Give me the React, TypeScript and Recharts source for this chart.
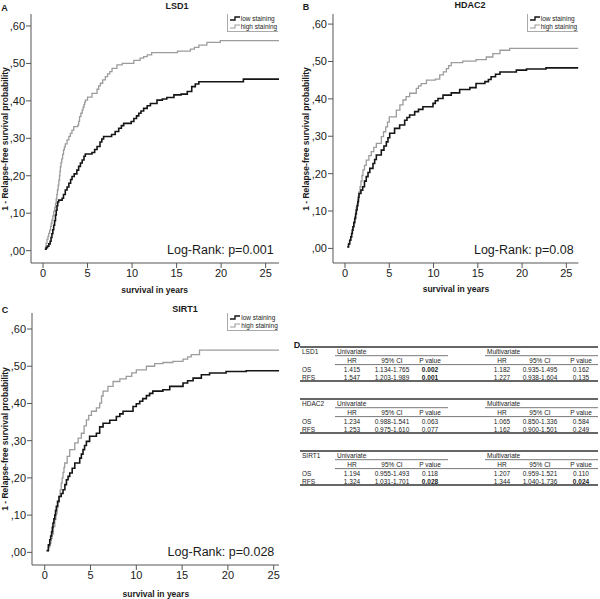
import React from 'react';
import { LineChart, Line, XAxis, YAxis } from 'recharts';

const FONT = '"Liberation Sans", Arial, sans-serif';

const yearTicks = [0, 5, 10, 15, 20, 25];
const probTicks = [0, 0.1, 0.2, 0.3, 0.4, 0.5, 0.6];
const seriesNames = ['low staining', 'high staining'];

// [years, 1 - relapse-free survival]
const lsd1Low: [number, number][] = [
  [0.2, 0.004], [0.35, 0.008], [0.5, 0.012], [0.65, 0.018], [0.8, 0.025], [0.9, 0.035], [1.0, 0.045],
  [1.1, 0.056], [1.2, 0.068], [1.3, 0.08], [1.4, 0.095], [1.48, 0.108], [1.57, 0.12], [1.65, 0.13],
  [1.76, 0.135], [2.15, 0.14], [2.3, 0.15], [2.5, 0.162], [2.7, 0.17], [2.9, 0.18], [3.1, 0.19],
  [3.26, 0.198], [3.5, 0.205], [3.8, 0.215], [4.0, 0.225], [4.2, 0.234], [4.4, 0.242], [4.6, 0.252],
  [4.75, 0.258], [5.5, 0.262], [5.8, 0.27], [6.07, 0.278], [6.4, 0.29], [6.6, 0.298], [6.8, 0.305],
  [7.7, 0.31], [8.1, 0.318], [8.5, 0.327], [8.8, 0.334], [9.06, 0.34], [9.9, 0.345], [10.2, 0.353],
  [10.5, 0.36], [10.75, 0.367], [11.0, 0.373], [11.3, 0.38], [11.7, 0.387], [12.06, 0.393],
  [12.8, 0.402], [13.4, 0.405], [13.9, 0.409], [14.7, 0.416], [15.5, 0.418], [16.2, 0.425],
  [16.7, 0.438], [17.1, 0.445], [17.5, 0.451], [22.5, 0.458], [26.5, 0.458],
];
const lsd1High: [number, number][] = [
  [0.2, 0.01], [0.35, 0.02], [0.45, 0.03], [0.55, 0.038], [0.64, 0.046], [0.75, 0.055], [0.85, 0.065],
  [0.92, 0.073], [1.0, 0.082], [1.1, 0.093], [1.2, 0.105], [1.3, 0.115], [1.4, 0.126], [1.48, 0.138],
  [1.55, 0.15], [1.62, 0.162], [1.7, 0.175], [1.78, 0.188], [1.85, 0.2], [1.9, 0.212], [1.95, 0.224],
  [2.02, 0.235], [2.1, 0.245], [2.2, 0.257], [2.3, 0.269], [2.4, 0.277], [2.5, 0.285], [2.7, 0.296],
  [2.9, 0.305], [3.07, 0.313], [3.25, 0.322], [3.45, 0.331], [3.9, 0.335], [4.0, 0.345], [4.1, 0.358],
  [4.25, 0.367], [4.4, 0.376], [4.5, 0.383], [4.6, 0.39], [4.68, 0.396], [4.76, 0.402], [5.0, 0.41],
  [5.5, 0.42], [6.07, 0.431], [6.25, 0.44], [6.44, 0.447], [6.7, 0.456], [7.0, 0.465], [7.25, 0.472],
  [7.5, 0.478], [7.75, 0.487], [8.3, 0.496], [8.9, 0.5], [10.2, 0.508], [10.9, 0.514], [11.3, 0.518],
  [11.7, 0.523], [12.2, 0.529], [15.1, 0.533], [16.55, 0.538], [17.0, 0.543], [17.5, 0.549],
  [18.4, 0.556], [19.9, 0.561], [26.5, 0.561],
];
const hdac2Low: [number, number][] = [
  [0.26, 0.004], [0.4, 0.012], [0.53, 0.022], [0.65, 0.031], [0.75, 0.04], [0.83, 0.049], [0.9, 0.058],
  [1.0, 0.069], [1.1, 0.08], [1.2, 0.092], [1.28, 0.103], [1.37, 0.114], [1.45, 0.125], [1.52, 0.136],
  [1.58, 0.147], [1.8, 0.156], [2.0, 0.165], [2.2, 0.18], [2.4, 0.192], [2.6, 0.203], [2.8, 0.214],
  [3.16, 0.227], [3.35, 0.238], [3.54, 0.25], [4.1, 0.263], [4.4, 0.274], [4.67, 0.285], [4.85, 0.296],
  [5.05, 0.308], [5.6, 0.321], [6.17, 0.33], [6.74, 0.343], [7.0, 0.35], [7.3, 0.357], [7.87, 0.366],
  [8.3, 0.372], [8.8, 0.379], [9.94, 0.388], [10.2, 0.395], [10.5, 0.401], [11.07, 0.41], [12.0, 0.416],
  [12.95, 0.425], [14.1, 0.43], [14.8, 0.441], [15.8, 0.446], [16.2, 0.452], [16.5, 0.459],
  [17.0, 0.466], [17.5, 0.472], [19.35, 0.477], [20.5, 0.48], [22.7, 0.483], [26.36, 0.483],
];
const hdac2High: [number, number][] = [
  [0.26, 0.004], [0.4, 0.012], [0.53, 0.022], [0.65, 0.031], [0.75, 0.04], [0.83, 0.049], [0.9, 0.058],
  [1.0, 0.071], [1.1, 0.085], [1.2, 0.098], [1.28, 0.111], [1.37, 0.12], [1.45, 0.13], [1.52, 0.14],
  [1.58, 0.151], [1.7, 0.165], [1.8, 0.18], [1.92, 0.195], [2.03, 0.21], [2.2, 0.222], [2.4, 0.236],
  [2.7, 0.248], [2.97, 0.259], [3.25, 0.27], [3.54, 0.281], [4.1, 0.299], [4.35, 0.312], [4.6, 0.325],
  [4.8, 0.338], [5.0, 0.352], [5.8, 0.37], [6.2, 0.384], [6.55, 0.397], [6.9, 0.406], [7.3, 0.415],
  [8.05, 0.428], [8.3, 0.435], [8.6, 0.441], [9.2, 0.45], [10.2, 0.453], [10.7, 0.464], [11.1, 0.472],
  [11.45, 0.481], [11.7, 0.489], [12.0, 0.497], [13.3, 0.501], [14.8, 0.505], [15.96, 0.512],
  [16.7, 0.521], [17.5, 0.53], [18.6, 0.535], [26.36, 0.535],
];
const sirt1Low: [number, number][] = [
  [0.2, 0.005], [0.4, 0.02], [0.55, 0.034], [0.65, 0.044], [0.75, 0.055], [0.83, 0.067], [0.9, 0.079],
  [1.0, 0.09], [1.1, 0.1], [1.18, 0.112], [1.27, 0.124], [1.4, 0.137], [1.56, 0.15], [1.8, 0.158],
  [2.0, 0.168], [2.2, 0.182], [2.37, 0.195], [2.55, 0.204], [2.73, 0.213], [3.0, 0.226], [3.28, 0.24],
  [3.82, 0.253], [4.0, 0.264], [4.18, 0.276], [4.35, 0.287], [4.55, 0.298], [4.9, 0.312], [5.64, 0.32],
  [6.0, 0.337], [6.37, 0.347], [7.1, 0.355], [7.82, 0.365], [8.2, 0.372], [8.55, 0.379], [9.64, 0.392],
  [10.0, 0.399], [10.37, 0.406], [10.7, 0.413], [11.1, 0.421], [11.45, 0.427], [11.8, 0.433],
  [12.9, 0.437], [13.65, 0.446], [15.1, 0.455], [15.6, 0.461], [16.2, 0.468], [17.1, 0.477],
  [18.0, 0.482], [19.8, 0.486], [22.0, 0.488], [25.58, 0.488],
];
const sirt1High: [number, number][] = [
  [0.2, 0.003], [0.4, 0.014], [0.55, 0.025], [0.68, 0.037], [0.8, 0.05], [0.95, 0.069], [1.1, 0.088],
  [1.22, 0.104], [1.35, 0.12], [1.45, 0.135], [1.56, 0.15], [1.68, 0.168], [1.8, 0.186], [1.9, 0.2],
  [2.0, 0.215], [2.1, 0.228], [2.18, 0.24], [2.45, 0.258], [2.73, 0.276], [3.28, 0.294], [3.65, 0.307],
  [4.0, 0.32], [4.3, 0.34], [4.55, 0.356], [4.8, 0.368], [5.1, 0.379], [5.64, 0.388], [6.0, 0.401],
  [6.2, 0.42], [6.37, 0.433], [6.9, 0.446], [7.46, 0.459], [8.2, 0.466], [8.9, 0.473], [9.5, 0.482],
  [10.0, 0.49], [11.1, 0.5], [12.0, 0.507], [12.9, 0.51], [14.0, 0.513], [15.1, 0.519], [15.6, 0.525],
  [16.0, 0.531], [16.9, 0.543], [25.58, 0.543],
];

// Cox regression table (panel D)
const markers = ['LSD1', 'HDAC2', 'SIRT1'];
const endpoints = ['OS', 'RFS'];
const colHeads = ['HR', '95% CI', 'P value'];
const uniHR = [['1.415', '1.547'], ['1.234', '1.253'], ['1.194', '1.324']];
const uniCI = [['1.134-1.765', '1.203-1.989'], ['0.988-1.541', '0.975-1.610'], ['0.955-1.493', '1.031-1.701']];
const uniP = [['0.002', '0.001'], ['0.063', '0.077'], ['0.118', '0.028']];
const multiHR = [['1.182', '1.227'], ['1.065', '1.162'], ['1.207', '1.344']];
const multiCI = [['0.935-1.495', '0.938-1.604'], ['0.850-1.336', '0.900-1.501'], ['0.959-1.521', '1.040-1.736']];
const multiP = [['0.162', '0.135'], ['0.584', '0.249'], ['0.110', '0.024']];

type Panel = {
  letter: string;
  title: string;
  pText: string;
  low: [number, number][];
  high: [number, number][];
  box: [number, number, number, number]; // left, top, right, bottom (page px)
  xDomain: [number, number];
  yDomain: [number, number];
  titleX: number;
  titleY: number;
  letterX: number;
  letterY: number;
  yLabelX: number;
  xLabelY: number;
};

const panels: Panel[] = [
  {
    letter: 'A', title: 'LSD1', pText: 'Log-Rank: p=0.001', low: lsd1Low, high: lsd1High,
    box: [30.7, 14, 278.7, 263], xDomain: [-1.35, 26.5], yDomain: [-0.033, 0.632],
    titleX: 177, titleY: 6, letterX: 4.5, letterY: 8, yLabelX: 5, xLabelY: 290,
  },
  {
    letter: 'B', title: 'HDAC2', pText: 'Log-Rank: p=0.08', low: hdac2Low, high: hdac2High,
    box: [333.3, 14, 578.7, 263], xDomain: [-1.355, 26.36], yDomain: [-0.039, 0.627],
    titleX: 470, titleY: 5, letterX: 306, letterY: 7, yLabelX: 305.5, xLabelY: 289,
  },
  {
    letter: 'C', title: 'SIRT1', pText: 'Log-Rank: p=0.028', low: sirt1Low, high: sirt1High,
    box: [32.3, 313.3, 279.3, 565.3], xDomain: [-1.39, 25.58], yDomain: [-0.034, 0.643],
    titleX: 185, titleY: 309, letterX: 5, letterY: 309.5, yLabelX: 5, xLabelY: 594,
  },
];

const AXIS = '#555';
const LOW = '#151515';
const HIGH = '#9c9c9c';

function Txt({ x, y, size, bold, rotate, anchor = 'middle', children }: any) {
  const tx = anchor === 'middle' ? '-50%' : anchor === 'end' ? '-100%' : '0';
  return (
    <div
      style={{
        position: 'absolute', left: x, top: y, fontFamily: FONT, fontSize: size, lineHeight: 1,
        fontWeight: bold ? 700 : 400, color: '#1a1a1a', whiteSpace: 'nowrap',
        transform: `translate(${tx}, -50%)${rotate ? ` rotate(${rotate}deg)` : ''}`,
        transformOrigin: anchor === 'middle' ? '50% 50%' : undefined,
      }}
    >
      {children}
    </div>
  );
}

function StepIcon({ color }: { color: string }) {
  return (
    <svg width={10} height={5} style={{ display: 'block', marginRight: 1 }}>
      <path d="M0,4 H5 V1 H10" fill="none" stroke={color} strokeWidth={color === LOW ? 1.4 : 1.1} />
    </svg>
  );
}

function KMPanel({ p }: { p: Panel }) {
  const yw = 31;
  const xh = 30;
  const pad = 2;
  const [l, t, r, b] = p.box;
  const w = r - l;
  const h = b - t;
  const lowData = p.low.map(([x, v]) => ({ t: x, v }));
  const highData = p.high.map(([x, v]) => ({ t: x, v }));
  const tick = { fontSize: 11, fill: '#1a1a1a', fontFamily: FONT };
  return (
    <>
      <div style={{ position: 'absolute', left: l - yw, top: t - pad }}>
        <LineChart width={w + yw + pad} height={h + pad + xh} margin={{ top: pad, right: pad, bottom: 0, left: 0 }}>
          <XAxis
            xAxisId="b" dataKey="t" type="number" domain={p.xDomain} ticks={yearTicks} allowDataOverflow
            height={xh} tick={tick} tickSize={5} tickMargin={1} stroke={AXIS} interval={0}
          />
          <XAxis
            xAxisId="top" orientation="top" type="number" domain={p.xDomain} allowDataOverflow
            height={0} tick={false} tickLine={false} stroke={AXIS}
          />
          <YAxis
            yAxisId="l" type="number" domain={p.yDomain} ticks={probTicks} allowDataOverflow width={yw}
            tick={tick} tickSize={5} tickMargin={1} stroke={AXIS} interval={0}
            tickFormatter={(v: number) => ',' + String(Math.round(v * 100)).padStart(2, '0')}
          />
          <YAxis
            yAxisId="r" orientation="right" type="number" domain={p.yDomain} allowDataOverflow
            width={0} tick={false} tickLine={false} stroke={AXIS}
          />
          <Line
            xAxisId="b" yAxisId="l" data={highData} dataKey="v" name={seriesNames[1]} type="stepAfter"
            stroke={HIGH} strokeWidth={1.3} dot={false} isAnimationActive={false}
          />
          <Line
            xAxisId="b" yAxisId="l" data={lowData} dataKey="v" name={seriesNames[0]} type="stepAfter"
            stroke={LOW} strokeWidth={1.6} dot={false} isAnimationActive={false}
          />
        </LineChart>
      </div>
      <div
        style={{
          position: 'absolute', left: r - 52, top: t, width: 51, height: 18,
          borderLeft: '1px solid #aaa', borderBottom: '1px solid #aaa', boxSizing: 'border-box',
          display: 'flex', flexDirection: 'column', justifyContent: 'center', paddingLeft: 2,
          fontFamily: FONT, fontSize: 6.5, color: '#222', lineHeight: '8px',
        }}
      >
        {[LOW, HIGH].map((c, i) => (
          <div key={i} style={{ display: 'flex', alignItems: 'center' }}>
            <StepIcon color={c} />
            <span>{seriesNames[i]}</span>
          </div>
        ))}
      </div>
      <Txt x={p.letterX} y={p.letterY} size={9} bold>{p.letter}</Txt>
      <Txt x={p.titleX} y={p.titleY} size={9} bold>{p.title}</Txt>
      <Txt x={(l + r) / 2} y={p.xLabelY} size={8.5} bold>survival in years</Txt>
      <Txt x={p.yLabelX} y={(t + b) / 2} size={8.5} bold rotate={-90}>1 - Relapse-free survival probability</Txt>
      <Txt x={r - 5} y={b - 13} size={12.5} anchor="end">{p.pText}</Txt>
    </>
  );
}

function CoxTable() {
  const ox = 295;
  const oy = 330;
  const blockTops = [347, 399, 451];
  const uniX = [352, 392, 430];
  const multiX = [502, 540, 581];
  const fs = 6.5;
  const txt = (x: number, y: number, s: string, anchor = 'middle', bold = false, key?: string) => (
    <text
      key={key} x={x - ox} y={y - oy} textAnchor={anchor} dominantBaseline="central"
      fontSize={fs} fontFamily={FONT} fontWeight={bold ? 700 : 400} fill="#222"
    >
      {s}
    </text>
  );
  return (
    <svg width={305} height={170} style={{ position: 'absolute', left: ox, top: oy }}>
      {markers.map((m, k) => {
        const y0 = blockTops[k];
        const cols = [
          { xs: uniX, hr: uniHR[k], ci: uniCI[k], p: uniP[k] },
          { xs: multiX, hr: multiHR[k], ci: multiCI[k], p: multiP[k] },
        ];
        return (
          <g key={m}>
            <line x1={300 - ox} x2={598 - ox} y1={y0 - oy} y2={y0 - oy} stroke="#333" strokeWidth={1.6} />
            <line x1={300 - ox} x2={598 - ox} y1={y0 + 34 - oy} y2={y0 + 34 - oy} stroke="#333" strokeWidth={1.6} />
            <line x1={335 - ox} x2={448 - ox} y1={y0 + 8.7 - oy} y2={y0 + 8.7 - oy} stroke="#555" strokeWidth={0.8} />
            <line x1={485 - ox} x2={598 - ox} y1={y0 + 8.7 - oy} y2={y0 + 8.7 - oy} stroke="#555" strokeWidth={0.8} />
            <line x1={335 - ox} x2={598 - ox} y1={y0 + 17.6 - oy} y2={y0 + 17.6 - oy} stroke="#555" strokeWidth={0.8} />
            {txt(302, y0 + 4.8, m, 'start')}
            {txt(337, y0 + 4.8, 'Univariate', 'start')}
            {txt(487, y0 + 4.8, 'Multivariate', 'start')}
            {cols.map((c, ci) =>
              colHeads.map((hd, j) => txt(c.xs[j], y0 + 13.3, hd, 'middle', false, `h${ci}${j}`)),
            )}
            {endpoints.map((e, i) => {
              const y = y0 + 22.2 + i * 7.8;
              return (
                <g key={e}>
                  {txt(302, y, e, 'start')}
                  {cols.map((c, ci) => (
                    <g key={ci}>
                      {txt(c.xs[0], y, c.hr[i])}
                      {txt(c.xs[1], y, c.ci[i])}
                      {txt(c.xs[2], y, c.p[i], 'middle', parseFloat(c.p[i]) < 0.05)}
                    </g>
                  ))}
                </g>
              );
            })}
          </g>
        );
      })}
    </svg>
  );
}

export default function App() {
  return (
    <div style={{ position: 'absolute', left: 0, top: 0, width: 600, height: 599, background: '#fff', overflow: 'hidden' }}>
      {panels.map((p) => (
        <KMPanel key={p.letter} p={p} />
      ))}
      <Txt x={297} y={344.5} size={9} bold>D</Txt>
      <CoxTable />
    </div>
  );
}
